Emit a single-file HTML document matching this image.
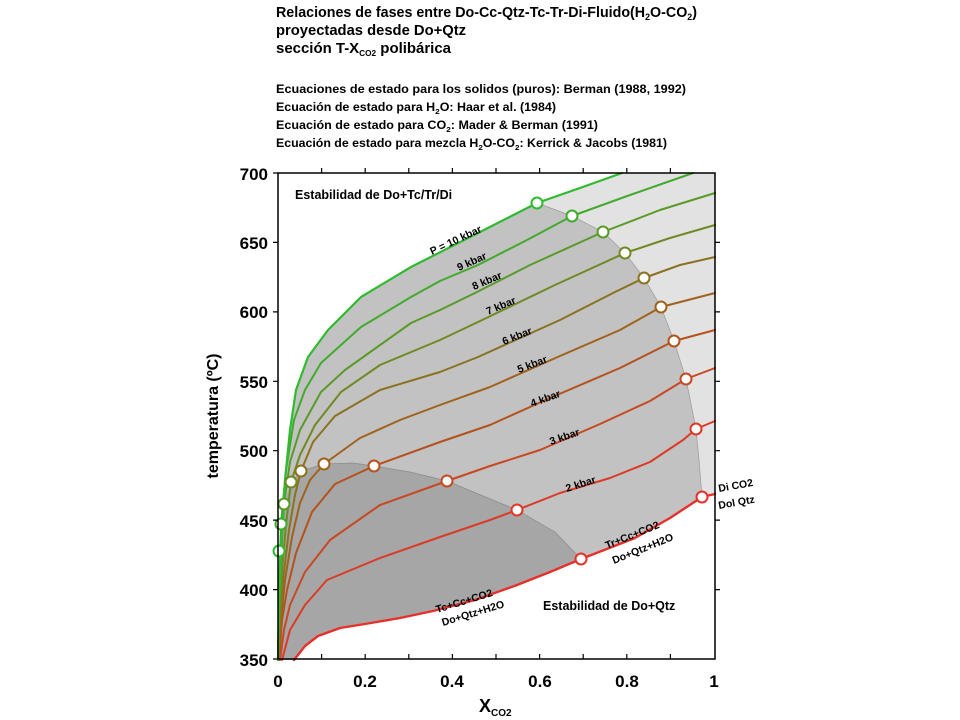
<!DOCTYPE html>
<html><head><meta charset="utf-8"><style>
html,body{margin:0;padding:0;background:#fff}
svg{display:block}
text{font-family:"Liberation Sans",sans-serif;font-weight:bold;fill:#000}
</style></head><body>
<svg width="960" height="720" viewBox="0 0 960 720" xmlns="http://www.w3.org/2000/svg">
<!-- titles -->
<text x="276" y="17" font-size="14.5" textLength="421" lengthAdjust="spacingAndGlyphs">Relaciones de fases entre Do-Cc-Qtz-Tc-Tr-Di-Fluido(H<tspan font-size="9" dy="3">2</tspan><tspan dy="-3">O-CO</tspan><tspan font-size="9" dy="3">2</tspan><tspan dy="-3">)</tspan></text>
<text x="276" y="35" font-size="14.5" textLength="190" lengthAdjust="spacingAndGlyphs">proyectadas desde Do+Qtz</text>
<text x="276" y="53" font-size="14.5" textLength="175" lengthAdjust="spacingAndGlyphs">sección T-X<tspan font-size="8" dy="3">CO2</tspan><tspan dy="-3"> polibárica</tspan></text>
<text x="276" y="93" font-size="11.5" textLength="410" lengthAdjust="spacingAndGlyphs">Ecuaciones de estado para los solidos (puros): Berman (1988, 1992)</text>
<text x="276" y="111" font-size="11.5" textLength="280" lengthAdjust="spacingAndGlyphs">Ecuación de estado para H<tspan font-size="7.5" dy="3">2</tspan><tspan dy="-3">O: Haar et al. (1984)</tspan></text>
<text x="276" y="129" font-size="11.5" textLength="322" lengthAdjust="spacingAndGlyphs">Ecuación de estado para CO<tspan font-size="7.5" dy="3">2</tspan><tspan dy="-3">: Mader &amp; Berman (1991)</tspan></text>
<text x="276" y="147" font-size="11.5" textLength="391" lengthAdjust="spacingAndGlyphs">Ecuación de estado para mezcla H<tspan font-size="7.5" dy="3">2</tspan><tspan dy="-3">O-CO</tspan><tspan font-size="7.5" dy="3">2</tspan><tspan dy="-3">: Kerrick &amp; Jacobs (1981)</tspan></text>

<!-- regions -->
<path d="M537,203 L580,188 L622,173 L715,173 L715,494 L702,497 L699,460 L696,429 L686,379 L674,341 L661,307 L644,278 L625,253 L603,232 L572,216 Z" fill="#e2e2e2"/>
<path d="M278,660 L279,600 L281,551 L285,480 L290,430 L296,390 L308,357 L328,330 L361,297 L411,267 L478,233 L537,203 L572,216 L603,232 L625,253 L644,278 L661,307 L674,341 L686,379 L696,429 L699,460 L702,497 L670,518 L635,538 L581,559 L550,572 L517,585 L475,600 L433,611 L400,618 L365,624 L340,628 L318,636 L305,646 L294,660 Z" fill="#c2c2c2"/>
<path d="M278,660 L278,600 L279,551 L281,524 L284,504 L291,482 L301,471 L324,464 L353,463 L374,466 L410,472 L447,481 L517,510 L555,532 L581,559 L550,572 L517,585 L475,600 L433,611 L400,618 L365,624 L340,628 L318,636 L305,646 L294,660 Z" fill="#a6a6a6"/>
<path d="M301,471 L324,464 L353,463 L374,466 L410,472 L447,481 L517,510 L555,532 L581,559" fill="none" stroke="#8c8c8c" stroke-width="0.7"/>
<path d="M537,203 L572,216 L603,232 L625,253 L644,278 L661,307 L674,341 L686,379 L696,429 L699,460 L702,497" fill="none" stroke="#999" stroke-width="0.7"/>

<!-- isobars -->
<g fill="none" stroke-width="2" stroke-linejoin="round" stroke-linecap="round">
<polyline stroke="#e8302a" stroke-width="2.4" points="294,660 305,646 318,636 340,628 365,624 400,618 433,611 475,600 517,585 550,572 581,559 635,538 670,518 702,497 715,494"/>
<polyline stroke="#dc3a26" points="282,660 290,630 305,605 327,580 380,558 440,537 490,520 517,510 560,493 610,478 650,462 683,440 696,429 715,421"/>
<polyline stroke="#c84822" points="280,660 284,630 290,605 305,572 330,540 380,505 447,481 490,466 540,450 600,424 650,401 686,379 715,368"/>
<polyline stroke="#b5521c" points="279,660 282,620 287,590 296,553 312,512 335,484 374,466 440,442 490,425 550,398 620,368 674,341 715,330"/>
<polyline stroke="#a0621a" points="278,660 281,620 285,580 292,537 300,503 310,480 324,464 360,438 400,420 440,405 490,387 560,356 620,330 661,307 715,293"/>
<polyline stroke="#8a7220" points="278,660 280,620 283,580 289,530 295,495 301,471 313,442 335,416 380,390 440,372 478,357 560,320 615,292 644,278 680,265 715,257"/>
<polyline stroke="#6f8a24" points="278,660 279,620 282,570 286,525 291,482 300,455 315,425 341,392 380,365 440,340 478,322 555,285 625,253 670,238 715,225"/>
<polyline stroke="#599a28" points="278,660 279,610 281,560 284,504 290,462 300,430 321,392 345,370 411,323 440,310 475,293 530,265 603,232 660,210 715,193"/>
<polyline stroke="#42aa2c" points="278,660 279,600 281,524 286,470 294,420 305,390 321,363 361,327 411,297 440,281 478,265 527,240 572,216 630,195 693,173"/>
<polyline stroke="#2fbb2f" stroke-width="2.2" points="278,660 279,600 281,551 285,480 290,430 296,390 308,357 328,330 361,297 411,267 478,233 537,203 580,188 622,173"/>
</g>
<!-- circles -->
<g stroke-width="2" fill="#fff">
<circle cx="279" cy="551" r="5.5" stroke="#2fbb2f"/>
<circle cx="281" cy="524" r="5.5" stroke="#42aa2c"/>
<circle cx="284" cy="504" r="5.5" stroke="#599a28"/>
<circle cx="291" cy="482" r="5.5" stroke="#6f8a24"/>
<circle cx="301" cy="471" r="5.5" stroke="#8a7220"/>
<circle cx="324" cy="464" r="5.5" stroke="#a0621a"/>
<circle cx="374" cy="466" r="5.5" stroke="#b5521c"/>
<circle cx="447" cy="481" r="5.5" stroke="#c84822"/>
<circle cx="517" cy="510" r="5.5" stroke="#dc3a26"/>
<circle cx="581" cy="559" r="5.5" stroke="#e8302a"/>
<circle cx="537" cy="203" r="5.5" stroke="#2fbb2f"/>
<circle cx="572" cy="216" r="5.5" stroke="#42aa2c"/>
<circle cx="603" cy="232" r="5.5" stroke="#599a28"/>
<circle cx="625" cy="253" r="5.5" stroke="#6f8a24"/>
<circle cx="644" cy="278" r="5.5" stroke="#8a7220"/>
<circle cx="661" cy="307" r="5.5" stroke="#a0621a"/>
<circle cx="674" cy="341" r="5.5" stroke="#b5521c"/>
<circle cx="686" cy="379" r="5.5" stroke="#c84822"/>
<circle cx="696" cy="429" r="5.5" stroke="#dc3a26"/>
<circle cx="702" cy="497" r="5.5" stroke="#e8302a"/>
</g>

<!-- curve labels -->
<g font-size="10.5">
<text transform="translate(432,255) rotate(-25)">P = 10 kbar</text>
<text transform="translate(459,271) rotate(-24)">9 kbar</text>
<text transform="translate(474,290) rotate(-23)">8 kbar</text>
<text transform="translate(488,315) rotate(-23)">7 kbar</text>
<text transform="translate(504,345) rotate(-22)">6 kbar</text>
<text transform="translate(519,373) rotate(-21)">5 kbar</text>
<text transform="translate(532,407) rotate(-20)">4 kbar</text>
<text transform="translate(551,445) rotate(-19)">3 kbar</text>
<text transform="translate(567,492) rotate(-18)">2 kbar</text>
<text transform="translate(437,613) rotate(-17)">Tc+Cc+CO2</text>
<text transform="translate(443,626) rotate(-17)">Do+Qtz+H2O</text>
<text transform="translate(607,549) rotate(-22)">Tr+Cc+CO2</text>
<text transform="translate(614,564) rotate(-22)">Do+Qtz+H2O</text>
<text transform="translate(719,492) rotate(-10)">Di CO2</text>
<text transform="translate(719,509) rotate(-10)">Dol Qtz</text>
</g>
<text x="295" y="199" font-size="12.5">Estabilidad de Do+Tc/Tr/Di</text>
<text x="543" y="610" font-size="12.5">Estabilidad de Do+Qtz</text>

<!-- axes -->
<rect x="278" y="173" width="437" height="486" fill="none" stroke="#000" stroke-width="1.5"/>
<g stroke="#000" stroke-width="1.2">
<path d="M321.6,659v-5M365.2,659v-5M408.8,659v-5M452.4,659v-5M496,659v-5M539.6,659v-5M583.2,659v-5M626.8,659v-5M670.4,659v-5"/>
<path d="M321.6,173v-5M365.2,173v-5M408.8,173v-5M452.4,173v-5M496,173v-5M539.6,173v-5M583.2,173v-5M626.8,173v-5M670.4,173v-5"/>
<path d="M278,173h-5M278,242.4h-5M278,311.9h-5M278,381.3h-5M278,450.7h-5M278,520.1h-5M278,589.6h-5M278,659h-5"/>
<path d="M715,242.4h5M715,311.9h5M715,381.3h5M715,450.7h5M715,520.1h5M715,589.6h5"/>
</g>
<g font-size="17" text-anchor="end">
<text x="268" y="180">700</text><text x="268" y="249">650</text><text x="268" y="318">600</text>
<text x="268" y="388">550</text><text x="268" y="457">500</text><text x="268" y="527">450</text>
<text x="268" y="596">400</text><text x="268" y="666">350</text>
</g>
<g font-size="17" text-anchor="middle">
<text x="278" y="687">0</text><text x="365" y="687">0.2</text><text x="452" y="687">0.4</text>
<text x="540" y="687">0.6</text><text x="627" y="687">0.8</text><text x="714" y="687">1</text>
</g>
<text x="479" y="712" font-size="18">X<tspan font-size="10" dy="4">CO2</tspan></text>
<text transform="translate(218,416) rotate(-90)" font-size="16" text-anchor="middle">temperatura (ºC)</text>
</svg>
</body></html>
